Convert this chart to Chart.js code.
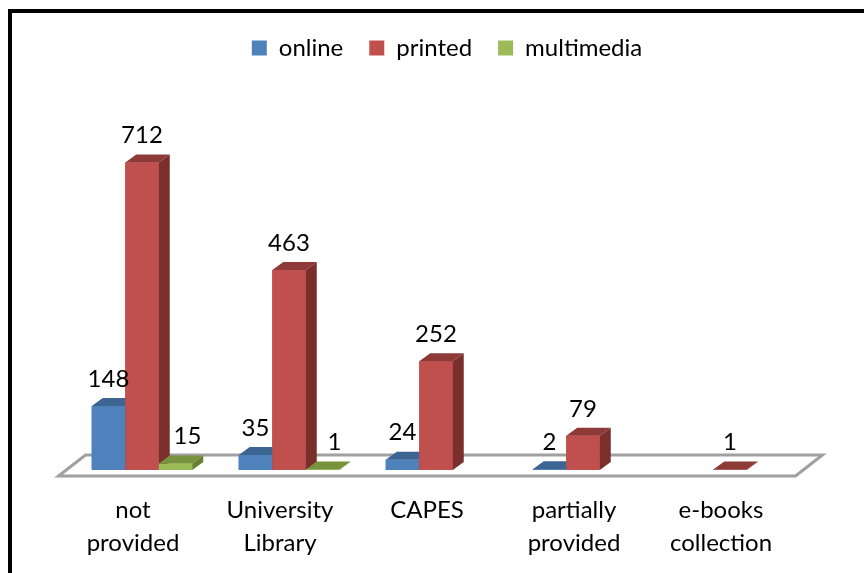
<!DOCTYPE html>
<html>
<head>
<meta charset="utf-8">
<script src="https://cdn.jsdelivr.net/npm/chart.js@4.4.1/dist/chart.umd.min.js"></script>
<style>
  html, body { margin: 0; padding: 0; background: #fff; }
  #wrap { width: 864px; height: 573px; }
</style>
</head>
<body>
<div id="wrap"><canvas id="chart"></canvas></div>
<script>
// Dados do gráfico
const categories = [['not', 'provided'], ['University', 'Library'], 'CAPES', ['partially', 'provided'], ['e-books', 'collection']];
const online = [148, 35, 24, 2, null];
const printed = [712, 463, 252, 79, 1];
const multimedia = [15, 1, null, null, null];

const seriesNames = ['online', 'printed', 'multimedia'];
const frontColors = ['#4F81BD', '#C0504D', '#9BBB59'];
const topColors = ['#3C6594', '#8E3A38', '#77933C'];
const sideColors = ['#30547F', '#7A2F2D', '#66802F'];

const FONT = 'Lato, "Open Sans", sans-serif';
const DX = 11, DY = 8; // profundidade 3D

// Plugin para o efeito 3D, o piso e os rótulos
const bar3d = {
  id: 'bar3d',
  beforeDraw(chart) {
    const ctx = chart.ctx;
    ctx.save();
    ctx.fillStyle = '#fff';
    ctx.fillRect(0, 0, chart.width, chart.height);
    ctx.fillStyle = '#000';
    ctx.fillRect(8, 9, 4, chart.height);
    ctx.fillRect(8, 9, chart.width, 4);
    ctx.restore();
  },
  beforeDatasetsDraw(chart) {
    const { ctx, chartArea: a } = chart;
    ctx.save();
    ctx.strokeStyle = '#a0a0a0';
    ctx.lineWidth = 3;
    ctx.beginPath();
    ctx.moveTo(a.left - 10, a.bottom + 6);
    ctx.lineTo(a.right - 8, a.bottom + 6);
    ctx.lineTo(a.right + 19, a.bottom - 15);
    ctx.lineTo(a.left + 17, a.bottom - 15);
    ctx.closePath();
    ctx.stroke();
    ctx.restore();
  },
  afterDatasetsDraw(chart) {
    const ctx = chart.ctx;
    ctx.save();
    // redesenha na ordem das séries para que a sobreposição fique certa
    chart.data.datasets.forEach((ds, i) => {
      const meta = chart.getDatasetMeta(i);
      meta.data.forEach((el, j) => {
        if (ds.data[j] == null) return;
        el.draw(ctx);
        const { x, y, base, width } = el.getProps(['x', 'y', 'base', 'width'], true);
        const l = x - width / 2, r = x + width / 2;
        ctx.fillStyle = topColors[i];
        ctx.beginPath();
        ctx.moveTo(l, y);
        ctx.lineTo(r, y);
        ctx.lineTo(r + DX, y - DY);
        ctx.lineTo(l + DX, y - DY);
        ctx.closePath();
        ctx.fill();
        ctx.fillStyle = sideColors[i];
        ctx.beginPath();
        ctx.moveTo(r, y);
        ctx.lineTo(r + DX, y - DY);
        ctx.lineTo(r + DX, base - DY);
        ctx.lineTo(r, base);
        ctx.closePath();
        ctx.fill();
      });
    });
    // rótulos de valor
    ctx.fillStyle = '#000';
    ctx.font = '24px ' + FONT;
    ctx.textAlign = 'center';
    ctx.textBaseline = 'middle';
    chart.data.datasets.forEach((ds, i) => {
      const meta = chart.getDatasetMeta(i);
      meta.data.forEach((el, j) => {
        const v = ds.data[j];
        if (v == null) return;
        const off = i === 2 ? 12 : 0;
        ctx.fillText(String(v), el.x + off, el.y - 27);
      });
    });
    ctx.restore();
  }
};

const datasets = [online, printed, multimedia].map((d, i) => ({
  label: seriesNames[i],
  data: d,
  backgroundColor: frontColors[i],
  borderWidth: 0
}));

new Chart(document.getElementById('chart'), {
  type: 'bar',
  data: { labels: categories, datasets: datasets },
  options: {
    responsive: true,
    maintainAspectRatio: false,
    animation: false,
    layout: { padding: { left: 68.5, right: 38.5, top: 10, bottom: 0 } },
    datasets: { bar: { barPercentage: 1, categoryPercentage: 0.684 } },
    plugins: {
      legend: {
        position: 'top',
        labels: {
          boxWidth: 15,
          boxHeight: 15,
          padding: 26,
          color: '#000',
          font: { family: FONT, size: 24 }
        }
      },
      tooltip: { enabled: false }
    },
    scales: {
      x: {
        grid: { display: false, drawTicks: false },
        border: { display: false },
        ticks: {
          color: '#000',
          font: { family: FONT, size: 24, lineHeight: 1.375 },
          padding: 24,
          labelOffset: -9,
          maxRotation: 0,
          autoSkip: false
        },
        afterFit(s) { s.height = 103; }
      },
      y: {
        position: 'right',
        min: 0,
        max: 926,
        grid: { display: false, drawTicks: false },
        border: { display: false },
        ticks: { display: false },
        afterFit(s) { s.width = 22; }
      }
    }
  },
  plugins: [bar3d]
});
</script>
</body>
</html>
